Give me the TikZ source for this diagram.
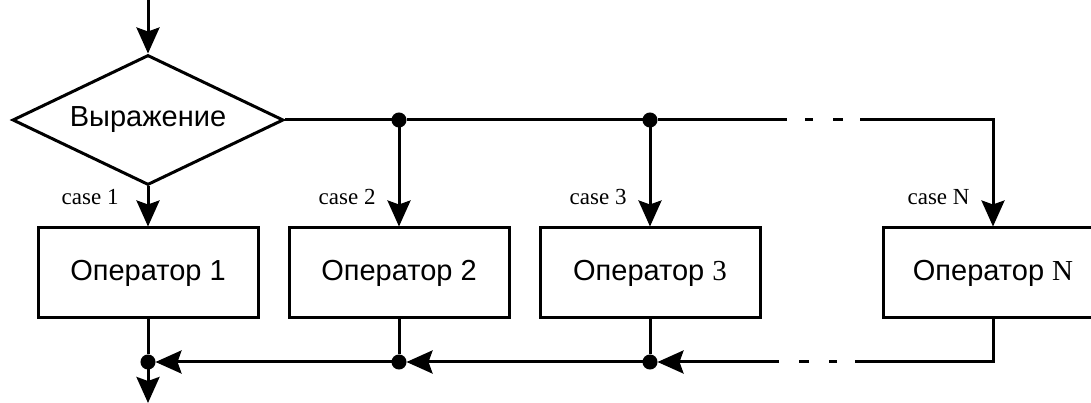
\documentclass[tikz,border=0pt]{standalone}
\usepackage{fontspec}
\setmainfont{Liberation Serif}
\setsansfont{Liberation Sans}
\usepackage{tikz}
\usetikzlibrary{arrows.meta,positioning,shapes.geometric}
\tikzset{%
	decision/.style = {draw, diamond, aspect=2, minimum width=271pt, minimum height=130pt, inner sep=0pt, font=\sffamily\fontsize{29}{34}\selectfont},
	process/.style  = {draw, rectangle, minimum width=220pt, minimum height=90pt, font=\sffamily\fontsize{29}{34}\selectfont},
	junction/.style = {draw, circle, fill, inner sep=0pt, minimum size=12pt}, % Branch point
	caselabel/.style = {inner sep=0pt, font=\rmfamily\fontsize{23}{27}\selectfont},
	waypoint/.style = {coordinate},
	gapline/.style  = {dash pattern=on 0pt off 18pt on 8pt off 20pt on 10pt off 20pt}, % Broken line
}

\begin{document}
\begin{tikzpicture}[x=1pt,y=1pt,node distance=251pt,line width=3pt,>={Stealth[length=26pt,width=23pt,inset=4pt]}]
	\clip (0,0) rectangle (1091,403);
	\node [decision] (expr) at (148,283) {Выражение};
	\node [waypoint] (in) [above of=expr,node distance=120pt] {};
	\node [process] (op1) [below of=expr,node distance=153pt] {Оператор 1};
	\node [process] (op2) [right of=op1] {Оператор 2};
	\node [process] (op3) [right of=op2] {Оператор {\rmfamily 3}};
	\node [process] (opn) [right of=op3,node distance=343pt] {Оператор {\rmfamily N}};
	
	% branch points
	\node [junction] (t2) at (op2 |- expr) {};
	\node [junction] (t3) at (op3 |- expr) {};
	\node [waypoint] (tgap1) [right of=t3,node distance=137pt] {};
	\node [waypoint] (tgap2) [right of=tgap1,node distance=73pt] {};
	\node [junction] (b1) [below of=op1,node distance=89pt] {};
	\node [junction] (b2) at (op2 |- b1) {};
	\node [junction] (b3) at (op3 |- b1) {};
	\node [waypoint] (bgap1) [right of=b3,node distance=129pt] {};
	\node [waypoint] (bgap2) [right of=b3,node distance=205pt] {};
	\node [waypoint] (out) [below of=b1,node distance=41pt] {};
	
	\draw[->] (in) -- (expr);
	\draw (expr) -- (t2);
	\draw (t2) -- (t3);
	\draw (t3) -- (tgap1);
	\draw [gapline] (tgap1) -- (tgap2);
	\draw[->] (expr) -- (op1);
	\draw[->] (t2) -- (op2);
	\draw[->] (t3) -- (op3);
	\draw[->] (tgap2) -| (opn);
	
	\draw (op1) -- (b1);
	\draw[->] (b1) -- (out);
	\draw (op2) -- (b2);
	\draw[->] (b2) -- (b1);
	\draw (op3) -- (b3);
	\draw[->] (b3) -- (b2);
	\draw (opn) |- (bgap2);
	\draw [gapline] (bgap2) -- (bgap1);
	\draw[->] (bgap1) -- (b3);
	
	\node [caselabel] [above left=20pt and 28pt of op1.north] {case 1};
	\node [caselabel] [above left=20pt and 22pt of op2.north] {case 2};
	\node [caselabel] [above left=20pt and 22pt of op3.north] {case 3};
	\node [caselabel] [above left=20pt and 22pt of opn.north] {case N};
\end{tikzpicture}
\end{document}
